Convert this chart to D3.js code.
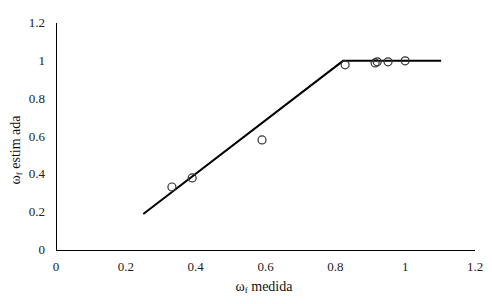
<!DOCTYPE html>
<html><head><meta charset="utf-8">
<script src="https://cdn.jsdelivr.net/npm/d3@7"></script>
<style>body{margin:0;background:#fff}svg{display:block}</style>
</head><body><svg id="c" width="492" height="304" font-family="'Liberation Serif', 'Times New Roman', Times, serif"></svg>
<script>
const xTicks = [0, 0.2, 0.4, 0.6, 0.8, 1, 1.2];
const yTicks = [0, 0.2, 0.4, 0.6, 0.8, 1, 1.2];
const measured = [0.332, 0.39, 0.59, 0.828, 0.914, 0.92, 0.951, 1.0];
const estimated = [0.333, 0.381, 0.582, 0.979, 0.989, 0.995, 0.995, 1.0];
const modelX = [0.25, 0.822, 1.103];
const modelY = [0.19, 1.0, 1.0];

const svg = d3.select("#c");
const x = d3.scaleLinear().domain([0, 1.2]).range([56, 475]);
const y = d3.scaleLinear().domain([0, 1.2]).range([250, 23]);

svg.append("line").attr("x1", x(0)).attr("x2", x(1.2)).attr("y1", y(0)+0.5).attr("y2", y(0)+0.5).attr("stroke", "#000").attr("stroke-width", 1);
svg.append("line").attr("x1", x(0)+0.5).attr("x2", x(0)+0.5).attr("y1", y(0)).attr("y2", y(1.2)).attr("stroke", "#000").attr("stroke-width", 1);

const fmt = d => String(d);
svg.append("g").selectAll("text").data(xTicks).join("text")
  .attr("x", d => x(d)).attr("y", 271).attr("text-anchor", "middle")
  .attr("font-size", 13).attr("fill", "#222").text(fmt);
svg.append("g").selectAll("text").data(yTicks).join("text")
  .attr("x", 45).attr("y", d => y(d) + 4).attr("text-anchor", "end")
  .attr("font-size", 13).attr("fill", "#222").text(fmt);

const xt = svg.append("text").attr("x", 264).attr("y", 291).attr("text-anchor", "middle").attr("font-size", 14).attr("fill", "#111");
xt.append("tspan").text("ω");
xt.append("tspan").attr("font-size", 9).attr("dy", 2).text("f");
xt.append("tspan").attr("dy", -2).text(" medida");

const yt = svg.append("text").attr("transform", "translate(20,150) rotate(-90)").attr("text-anchor", "middle").attr("font-size", 14).attr("fill", "#111");
yt.append("tspan").text("ω");
yt.append("tspan").attr("font-size", 9).attr("dy", 2).text("f");
yt.append("tspan").attr("dy", -2).text(" estim ada");

const line = d3.line().x(d => x(d[0])).y(d => y(d[1]));
svg.append("path").datum(modelX.map((v, i) => [v, modelY[i]]))
  .attr("d", line).attr("fill", "none").attr("stroke", "#000").attr("stroke-width", 2);

svg.append("g").selectAll("circle").data(measured.map((v, i) => [v, estimated[i]])).join("circle")
  .attr("cx", d => x(d[0])).attr("cy", d => y(d[1])).attr("r", 4)
  .attr("fill", "none").attr("stroke", "#333").attr("stroke-width", 1.2);
</script></body></html>
